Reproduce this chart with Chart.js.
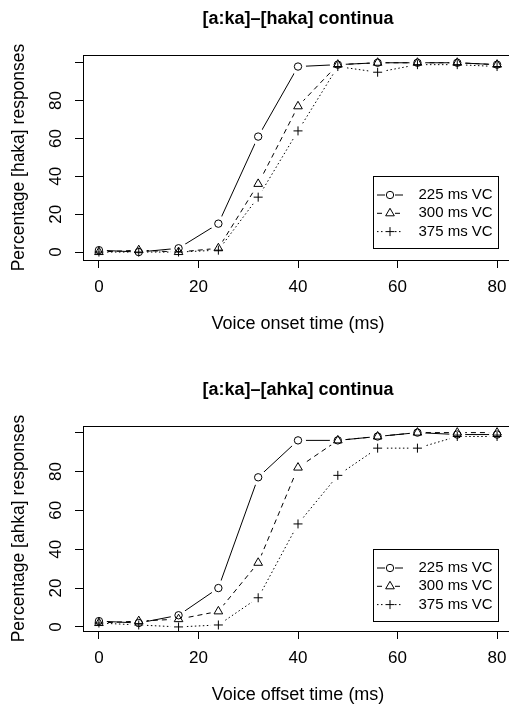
<!DOCTYPE html>
<html>
<head>
<meta charset="utf-8">
<script src="https://cdn.jsdelivr.net/npm/chart.js@4/dist/chart.umd.min.js"></script>
<style>
  html, body { margin: 0; padding: 0; background: #fff; overflow: hidden; width: 509px; height: 704px; }
  #wrap { position: relative; width: 509px; height: 704px; overflow: hidden; }
  canvas { position: absolute; left: 0; }
  #top { top: 0; }
  #bottom { top: 371px; }
</style>
</head>
<body>
<div id="wrap">
  <canvas id="top" width="560" height="340"></canvas>
  <canvas id="bottom" width="560" height="340"></canvas>
</div>
<script>
const FONT = '"Liberation Sans", Arial, Helvetica, sans-serif';

// === Data ===
const timesMs = [0, 8, 16, 24, 32, 40, 48, 56, 64, 72, 80];
const xTicks = [0, 20, 40, 60, 80];
const yTicks = [0, 20, 40, 60, 80, 100];
const yTickLabels = ['0', '20', '40', '60', '80', ''];
const seriesNames = ['225 ms VC', '300 ms VC', '375 ms VC'];

// [a:ka]-[haka] continua, voice onset time
const haka225 = [1, 0, 2, 15, 61, 98, 99, 100, 100, 100, 99];
const haka300 = [0, 1, 0, 2, 36, 77, 99, 100, 100, 100, 99];
const haka375 = [0, 0, 0, 1, 29, 64, 98, 95, 99, 99, 98];

// [a:ka]-[ahka] continua, voice offset time
const ahka225 = [3, 2, 6, 20, 77, 96, 96, 98, 100, 99, 99];
const ahka300 = [2, 3, 4, 8, 33, 82, 96, 98, 100, 100, 100];
const ahka375 = [2, 1, 0, 1, 15, 53, 78, 92, 92, 98, 98];

// === Styles (R type="b": lines broken around symbols) ===
const styles = [
  { pointStyle: 'circle',   radius: 3.7, dash: [] },
  { pointStyle: 'triangle', radius: 5,   dash: [5, 4] },
  { pointStyle: 'cross',    radius: 4.5, dash: [1.5, 2.5] }
];
const GAP = 8;

// clip holes round each point so the line stops short of the symbol
const gapPlugin = {
  id: 'gapLines',
  beforeDatasetDraw(chart, args) {
    const ds = chart.data.datasets[args.index];
    if (!ds.gapLine) return;
    const ctx = chart.ctx;
    ctx.save();
    ctx.beginPath();
    ctx.rect(0, 0, chart.width, chart.height);
    args.meta.data.forEach(p => {
      ctx.moveTo(p.x + GAP, p.y);
      ctx.arc(p.x, p.y, GAP, 0, Math.PI * 2);
    });
    ctx.clip('evenodd');
  },
  afterDatasetDraw(chart, args) {
    if (chart.data.datasets[args.index].gapLine) chart.ctx.restore();
  }
};

// box, tick labels (y ones parallel to the axis) and the legend
const framePlugin = {
  id: 'rFrame',
  afterDraw(chart, args, opts) {
    const ctx = chart.ctx;
    const a = chart.chartArea;
    const xs = chart.scales.x, ys = chart.scales.y;
    ctx.save();
    ctx.strokeStyle = '#000';
    ctx.lineWidth = 1;
    ctx.strokeRect(Math.round(a.left) + 0.5, Math.round(a.top) + 0.5,
                   Math.round(a.right - a.left), Math.round(a.bottom - a.top));

    ctx.fillStyle = '#000';
    ctx.font = '17px ' + FONT;
    ctx.textAlign = 'center';
    ctx.textBaseline = 'middle';
    xTicks.forEach(v => {
      ctx.fillText(String(v), xs.getPixelForValue(v), a.bottom + 27);
    });
    yTicks.forEach((v, i) => {
      if (!yTickLabels[i]) return;
      ctx.save();
      ctx.translate(56, ys.getPixelForValue(v));
      ctx.rotate(-Math.PI / 2);
      ctx.fillText(yTickLabels[i], 0, 0);
      ctx.restore();
    });

    // legend anchored at data coords like legend(55, 40, ...)
    const lx = Math.round(xs.getPixelForValue(opts.legendAt[0])) + 0.5;
    const ly = Math.round(ys.getPixelForValue(opts.legendAt[1])) + 0.5;
    ctx.fillStyle = '#fff';
    ctx.fillRect(lx, ly, 125, 72);
    ctx.strokeRect(lx, ly, 125, 72);
    ctx.font = '15px ' + FONT;
    ctx.textAlign = 'left';
    seriesNames.forEach((name, i) => {
      const st = styles[i];
      const y = ly + 18.5 + i * 18.3;
      const cx = lx + 16.5;
      ctx.setLineDash(st.dash);
      ctx.beginPath();
      ctx.moveTo(cx - 13, y); ctx.lineTo(cx - 5, y);
      ctx.moveTo(cx + 5, y); ctx.lineTo(cx + 13, y);
      ctx.stroke();
      ctx.setLineDash([]);
      ctx.fillStyle = 'rgba(0,0,0,0)';
      Chart.helpers.drawPoint(ctx, {
        pointStyle: st.pointStyle, radius: st.radius, borderWidth: 1, rotation: 0
      }, cx, y);
      ctx.fillStyle = '#000';
      ctx.fillText(name, lx + 45, y);
    });
    ctx.restore();
  }
};

function buildDatasets(series) {
  const out = [];
  series.forEach((vals, i) => {
    const pts = timesMs.map((t, k) => ({ x: t, y: vals[k] }));
    out.push({
      label: seriesNames[i], data: pts, gapLine: true, showLine: true,
      borderColor: '#000', borderWidth: 1, borderDash: styles[i].dash,
      pointRadius: 0, tension: 0
    });
    out.push({
      label: seriesNames[i] + ' points', data: pts, showLine: false, clip: false,
      pointStyle: styles[i].pointStyle, pointRadius: styles[i].radius,
      pointBorderColor: '#000', pointBackgroundColor: 'rgba(0,0,0,0)', pointBorderWidth: 1
    });
  });
  return out;
}

function makeChart(id, title, xlab, ylab, yMin, yMax, series) {
  const axisGrid = { drawOnChartArea: false, drawTicks: true, tickLength: 8, color: '#000', lineWidth: 1 };
  return new Chart(document.getElementById(id), {
    type: 'scatter',
    data: { datasets: buildDatasets(series) },
    options: {
      responsive: false,
      animation: false,
      events: [],
      layout: { padding: { top: 0, left: 0, right: 47, bottom: 0 } },
      scales: {
        x: {
          type: 'linear', min: -3.2, max: 83.2,
          afterBuildTicks: s => { s.ticks = xTicks.map(v => ({ value: v })); },
          afterFit: s => { s.height = 80; },
          grid: axisGrid,
          border: { display: true, color: '#000', width: 1 },
          ticks: { display: false },
          title: { display: true, text: xlab, color: '#000', font: { family: FONT, size: 18 }, padding: { top: 0, bottom: 5 } }
        },
        y: {
          type: 'linear', min: yMin, max: yMax,
          afterBuildTicks: s => { s.ticks = yTicks.map(v => ({ value: v })); },
          afterFit: s => { s.width = 83; },
          grid: axisGrid,
          border: { display: true, color: '#000', width: 1 },
          ticks: { display: false },
          title: { display: true, text: ylab, color: '#000', font: { family: FONT, size: 17.5 }, padding: { top: 9, bottom: 0 } }
        }
      },
      plugins: {
        legend: { display: false },
        tooltip: { enabled: false },
        title: {
          display: true, text: title, fullSize: false, color: '#000',
          font: { family: FONT, size: 18, weight: 'bold' },
          padding: { top: 8.7, bottom: 24.7 }
        },
        rFrame: { legendAt: [55, 40] }
      }
    },
    plugins: [gapPlugin, framePlugin]
  });
}

makeChart('top', '[a:ka]\u2013[haka] continua', 'Voice onset time (ms)',
          'Percentage [haka] responses', -4.2, 104.1, [haka225, haka300, haka375]);
makeChart('bottom', '[a:ka]\u2013[ahka] continua', 'Voice offset time (ms)',
          'Percentage [ahka] responses', -2.1, 103.4, [ahka225, ahka300, ahka375]);
</script>
</body>
</html>
